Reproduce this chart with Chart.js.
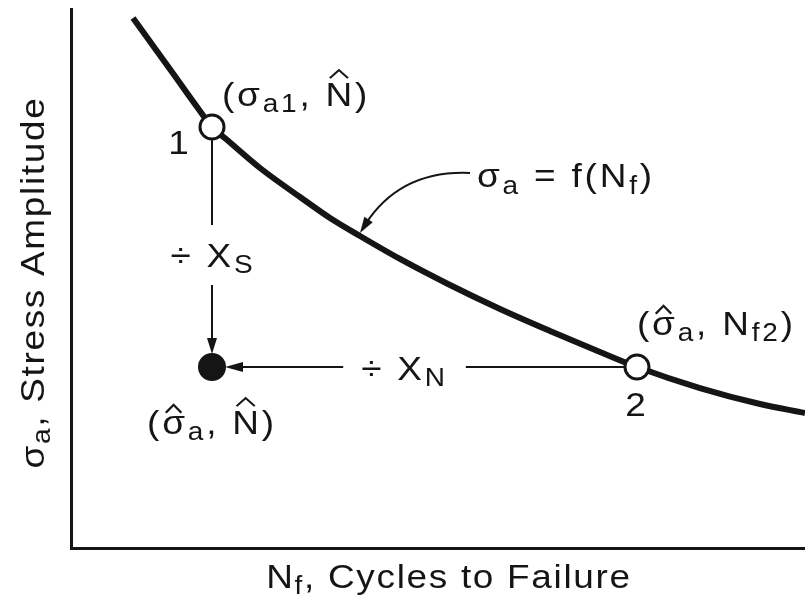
<!DOCTYPE html>
<html>
<head>
<meta charset="utf-8">
<script src="https://cdn.jsdelivr.net/npm/chart.js@4.4.1/dist/chart.umd.min.js"></script>
<style>
  html, body { margin: 0; padding: 0; background: #fff; }
  #wrap { width: 805px; height: 605px; }
</style>
</head>
<body>
<div id="wrap"><canvas id="snChart" width="805" height="605"></canvas></div>
<script>
/* globals Chart:false */
(() => {
  'use strict';

  // S-N curve: stress amplitude against cycles to failure (schematic units)
  const curveN = [8.45, 13.76, 17.57, 19.21, 21.12, 25.75, 31.2, 35.29, 39.37, 44.82, 51.63, 58.45, 65.26, 72.07, 77.11, 85.69, 93.87, 100];
  const curveS = [98.33, 88.31, 81.08, 78.11, 75.88, 70.5, 65.12, 61.22, 57.88, 53.62, 48.79, 44.34, 40.26, 36.36, 33.58, 29.68, 26.72, 25.05];

  // point 1 (sigma_a1, N^), point 2 (sigma^_a, N_f2) and the allowed point (sigma^_a, N^)
  const nHat = 19.21;
  const sigmaA1 = 78.11;
  const nf2 = 77.11;
  const sigmaHat = 33.58;

  // curve point the f(N_f) callout points at
  const calloutAt = 8;

  const axisTitleX = [{ t: 'N' }, { t: 'f', sub: true }, { t: ', Cycles to Failure' }];
  const axisTitleY = [{ t: 'σ' }, { t: 'a', sub: true }, { t: ', Stress Amplitude' }];

  const ink = '#151515';
  const FONT = '"Liberation Sans", Arial, Helvetica, sans-serif';
  const SX = 1.12;     // lettering is a little wide

  function fontFor(run, size) {
    return (run.sub ? Math.round(size * 0.75) : size) + 'px ' + FONT;
  }

  function measureRich(ctx, runs, size, track) {
    let w = 0;
    for (const r of runs) {
      ctx.font = fontFor(r, size);
      for (const ch of r.t) w += ctx.measureText(ch).width + track;
    }
    return w * SX;
  }

  // draws runs of text (with subscripts and hats); y is the middle of the capitals
  function drawRich(ctx, runs, x, y, size, align, track, angle) {
    ctx.save();
    ctx.translate(x, y);
    if (angle) ctx.rotate(angle);
    const total = measureRich(ctx, runs, size, track);
    ctx.scale(SX, 1);
    let cx = align === 'center' ? -total / SX / 2 : 0;
    const base = size * 0.36;
    ctx.fillStyle = ink;
    ctx.strokeStyle = ink;
    ctx.textAlign = 'left';
    ctx.textBaseline = 'alphabetic';
    for (const r of runs) {
      ctx.font = fontFor(r, size);
      const by = base + (r.sub ? size * 0.2 : 0);
      const start = cx;
      for (const ch of r.t) {
        ctx.fillText(ch, cx, by);
        cx += ctx.measureText(ch).width + track;
      }
      if (r.hat) {
        const w = cx - start - track;
        const top = by - (r.cap ? size * 0.72 : size * 0.52) - 4;
        const hw = Math.max(6, w * 0.34);
        ctx.beginPath();
        ctx.moveTo(start + w / 2 - hw, top);
        ctx.lineTo(start + w / 2, top - 8);
        ctx.lineTo(start + w / 2 + hw, top);
        ctx.lineWidth = 2;
        ctx.stroke();
      }
    }
    ctx.restore();
  }

  function arrowHead(ctx, tx, ty, dx, dy, len, half) {
    const d = Math.hypot(dx, dy);
    const ux = dx / d, uy = dy / d;
    ctx.beginPath();
    ctx.moveTo(tx, ty);
    ctx.lineTo(tx - ux * len - uy * half, ty - uy * len + ux * half);
    ctx.lineTo(tx - ux * len + uy * half, ty - uy * len - ux * half);
    ctx.closePath();
    ctx.fill();
  }

  const labelSize = 33;
  const labelTrack = 2.5;
  const titleSize = 33;
  const titleTrack = 1.5;
  const divS = [{ t: '÷ ' }, { t: 'X' }, { t: 'S', sub: true }];
  const divN = [{ t: '÷ ' }, { t: 'X' }, { t: 'N', sub: true }];

  const annotations = {
    id: 'annotations',
    beforeDatasetsDraw(chart) {
      const { ctx, scales: { x, y } } = chart;
      const p1 = { x: x.getPixelForValue(nHat), y: y.getPixelForValue(sigmaA1) };
      const p2 = { x: x.getPixelForValue(nf2), y: y.getPixelForValue(sigmaHat) };
      const d = { x: x.getPixelForValue(nHat), y: y.getPixelForValue(sigmaHat) };
      const r = 13;
      ctx.save();
      ctx.strokeStyle = ink;
      ctx.fillStyle = ink;
      ctx.lineWidth = 2;

      // divide by X_S: point 1 straight down to the allowed point
      const sMid = (p1.y + d.y) / 2 + 8;
      const sGap = 30;
      ctx.beginPath();
      ctx.moveTo(p1.x, p1.y);
      ctx.lineTo(p1.x, sMid - sGap);
      ctx.moveTo(p1.x, sMid + sGap);
      ctx.lineTo(d.x, d.y - r - 14);
      ctx.stroke();
      arrowHead(ctx, d.x, d.y - r, 0, 1, 16, 5);

      // divide by X_N: point 2 left to the allowed point
      const nMid = (p2.x + d.x) / 2 - 20;
      const nGap = measureRich(ctx, divN, labelSize, labelTrack) / 2 + 18;
      ctx.beginPath();
      ctx.moveTo(p2.x, p2.y);
      ctx.lineTo(nMid + nGap, p2.y);
      ctx.moveTo(nMid - nGap, p2.y);
      ctx.lineTo(d.x + r + 14, d.y);
      ctx.stroke();
      arrowHead(ctx, d.x + r, d.y, -1, 0, 18, 5);
      ctx.restore();
    },
    afterDatasetsDraw(chart) {
      const { ctx, chartArea, scales: { x, y } } = chart;
      const p1 = { x: x.getPixelForValue(nHat), y: y.getPixelForValue(sigmaA1) };
      const p2 = { x: x.getPixelForValue(nf2), y: y.getPixelForValue(sigmaHat) };
      const d = { x: x.getPixelForValue(nHat), y: y.getPixelForValue(sigmaHat) };

      drawRich(ctx, [{ t: '(' }, { t: 'σ' }, { t: 'a1', sub: true }, { t: ', ' }, { t: 'N', hat: true, cap: true }, { t: ')' }],
        p1.x + 10, p1.y - 33, labelSize, 'left', labelTrack);
      drawRich(ctx, [{ t: '1' }], p1.x - 32, p1.y + 15, labelSize, 'center', labelTrack);

      drawRich(ctx, [{ t: '(' }, { t: 'σ', hat: true }, { t: 'a', sub: true }, { t: ', ' }, { t: 'N' }, { t: 'f2', sub: true }, { t: ')' }],
        p2.x, p2.y - 44, labelSize, 'left', labelTrack);
      drawRich(ctx, [{ t: '2' }], p2.x, p2.y + 37, labelSize, 'center', labelTrack);

      drawRich(ctx, [{ t: '(' }, { t: 'σ', hat: true }, { t: 'a', sub: true }, { t: ', ' }, { t: 'N', hat: true, cap: true }, { t: ')' }],
        d.x, d.y + 55, labelSize, 'center', labelTrack);

      drawRich(ctx, divS, p1.x + 1, (p1.y + d.y) / 2 + 8, labelSize, 'center', labelTrack);
      drawRich(ctx, divN, (p2.x + d.x) / 2 - 20, d.y + 1, labelSize, 'center', labelTrack);

      // callout for the curve sigma_a = f(N_f)
      const tip = { x: x.getPixelForValue(curveN[calloutAt]), y: y.getPixelForValue(curveS[calloutAt]) - 3 };
      const from = { x: tip.x + 110, y: tip.y - 60 };
      const ctrl = { x: tip.x + 40, y: tip.y - 63 };
      ctx.save();
      ctx.strokeStyle = ink;
      ctx.fillStyle = ink;
      ctx.lineWidth = 2;
      ctx.beginPath();
      ctx.moveTo(from.x, from.y);
      ctx.quadraticCurveTo(ctrl.x, ctrl.y, tip.x + 5, tip.y - 8);
      ctx.stroke();
      arrowHead(ctx, tip.x, tip.y, tip.x - ctrl.x, tip.y - ctrl.y, 16, 5);
      ctx.restore();
      drawRich(ctx, [{ t: 'σ' }, { t: 'a', sub: true }, { t: ' = f(N' }, { t: 'f', sub: true }, { t: ')' }],
        from.x + 7, from.y + 2, labelSize, 'left', labelTrack);

      // axis titles
      drawRich(ctx, axisTitleX, (chartArea.left + chartArea.right) / 2 + 11, chartArea.bottom + 28, titleSize, 'center', titleTrack);
      drawRich(ctx, axisTitleY, chartArea.left - 39, (chartArea.top + chartArea.bottom) / 2 + 4, titleSize, 'center', titleTrack, -Math.PI / 2);
    }
  };

  const ctx = document.getElementById('snChart');
  new Chart(ctx, {
    type: 'scatter',
    data: {
      datasets: [
        {
          label: 'points',
          data: [
            { x: nHat, y: sigmaA1 },
            { x: nf2, y: sigmaHat },
            { x: nHat, y: sigmaHat }
          ],
          pointRadius: [12, 12, 12.5],
          pointBackgroundColor: ['#ffffff', '#ffffff', ink],
          pointBorderColor: ink,
          pointBorderWidth: 3,
          showLine: false,
          order: 0
        },
        {
          label: 'σa = f(Nf)',
          data: curveN.map((n, i) => ({ x: n, y: curveS[i] })),
          showLine: true,
          borderColor: ink,
          borderWidth: 6,
          pointRadius: 0,
          cubicInterpolationMode: 'monotone',
          fill: false,
          order: 1
        }
      ]
    },
    options: {
      responsive: false,
      animation: false,
      layout: {
        autoPadding: false,
        padding: { left: 71, top: 9, right: 0, bottom: 57 }
      },
      plugins: {
        legend: { display: false },
        tooltip: { enabled: false }
      },
      scales: {
        x: {
          type: 'linear',
          min: 0,
          max: 100,
          grid: { display: false, drawTicks: false },
          border: { display: true, color: ink, width: 3 },
          ticks: { display: false }
        },
        y: {
          type: 'linear',
          min: 0,
          max: 100,
          grid: { display: false, drawTicks: false },
          border: { display: true, color: ink, width: 3 },
          ticks: { display: false }
        }
      }
    },
    plugins: [annotations]
  });
})();
</script>
</body>
</html>
